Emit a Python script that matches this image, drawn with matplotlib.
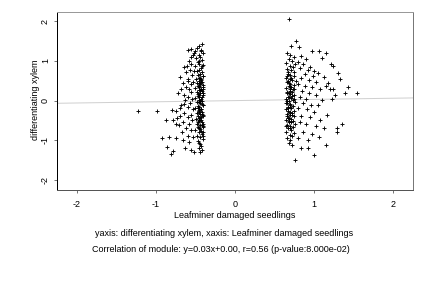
import matplotlib
matplotlib.use("Agg")
import matplotlib.pyplot as plt
import numpy as np

plt.rcParams['font.family'] = ['Liberation Sans', 'DejaVu Sans']

# Left cluster, dense column
left_dense = [(-0.42,1.42),(-0.45,1.38),(-0.48,1.33),(-0.43,1.28),(-0.50,1.25),(-0.41,1.20),(-0.46,1.15),(-0.44,1.10),
(-0.49,1.06),(-0.42,1.02),(-0.47,0.97),(-0.45,0.93),(-0.41,0.89),(-0.50,0.86),(-0.43,0.82),(-0.46,0.78),(-0.48,0.75),
(-0.42,0.71),(-0.44,0.68),(-0.47,0.64),(-0.41,0.61),(-0.45,0.58),(-0.49,0.55),(-0.43,0.52),(-0.46,0.50),(-0.42,0.47),
(-0.48,0.45),(-0.44,0.42),(-0.41,0.40),(-0.47,0.37),(-0.45,0.34),(-0.50,0.32),(-0.43,0.29),(-0.46,0.26),(-0.42,0.24),
(-0.48,0.21),(-0.44,0.18),(-0.41,0.15),(-0.47,0.12),(-0.45,0.10),(-0.51,0.07),(-0.43,0.04),(-0.46,0.02),(-0.42,-0.01),
(-0.48,-0.04),(-0.44,-0.07),(-0.41,-0.10),(-0.47,-0.13),(-0.45,-0.16),(-0.50,-0.19),(-0.43,-0.22),(-0.46,-0.25),
(-0.42,-0.28),(-0.48,-0.31),(-0.44,-0.34),(-0.41,-0.37),(-0.47,-0.40),(-0.45,-0.43),(-0.49,-0.46),(-0.43,-0.49),
(-0.46,-0.52),(-0.42,-0.55),(-0.48,-0.58),(-0.44,-0.61),(-0.41,-0.64),(-0.47,-0.67),(-0.45,-0.70),(-0.50,-0.73),
(-0.43,-0.76),(-0.46,-0.80),(-0.42,-0.84),(-0.48,-0.88),(-0.44,-0.92),(-0.41,-0.97),(-0.47,-1.02),(-0.45,-1.07),
(-0.43,-1.13),(-0.46,-1.19),(-0.42,-1.25),(-0.44,-1.30),
(-0.40,0.62),(-0.43,0.55),(-0.46,0.44),(-0.41,0.35),(-0.44,0.27),(-0.47,0.16),(-0.42,0.08),(-0.45,-0.03),(-0.40,-0.12),
(-0.43,-0.20),(-0.46,-0.29),(-0.41,-0.38),(-0.44,-0.45),(-0.47,-0.54),(-0.42,-0.62),(-0.45,-0.68),(-0.40,-0.78),
(-0.43,0.48),(-0.46,0.38),(-0.41,0.20),(-0.44,0.00),(-0.47,-0.18),(-0.42,-0.33),(-0.45,-0.50),(-0.40,-0.66),
(-0.44,0.58),(-0.41,0.30),(-0.45,0.13),(-0.42,-0.08),(-0.46,-0.24),(-0.43,-0.42),(-0.41,-0.58),(-0.44,-0.72),
(-0.42,0.88),(-0.45,1.00),(-0.43,1.24),(-0.41,-0.90),(-0.44,-1.10)]

# Left cluster, scattered points
left_spread = [(-0.55,1.30),(-0.60,1.28),(-0.52,1.20),(-0.56,1.10),(-0.53,1.15),(-0.58,1.00),(-0.61,0.88),(-0.64,0.85),
(-0.55,0.92),(-0.52,0.75),(-0.57,0.78),(-0.62,0.72),(-0.70,0.60),(-0.54,0.65),(-0.59,0.55),(-0.66,0.45),(-0.56,0.42),
(-0.53,0.48),(-0.62,0.35),(-0.68,0.30),(-0.58,0.28),(-0.55,0.22),(-0.65,0.15),(-0.72,0.18),(-0.60,0.10),(-0.54,0.05),
(-0.63,0.02),(-0.57,-0.05),(-0.68,-0.10),(-0.59,-0.15),(-0.70,-0.18),(-0.53,-0.20),(-0.75,-0.25),(-0.64,-0.30),
(-0.56,-0.35),(-0.70,-0.38),(-0.60,-0.42),(-0.73,-0.45),(-0.54,-0.50),(-0.66,-0.55),(-0.58,-0.60),(-0.71,-0.62),
(-0.62,-0.70),(-0.55,-0.75),(-0.67,-0.80),(-0.60,-0.88),(-0.53,-0.92),(-0.75,-0.95),(-0.66,-1.00),(-0.58,-1.05),
(-0.63,-1.20),(-0.56,-1.25),(-0.52,-1.30),(-0.60,0.50),(-0.65,-0.08),(-0.78,-0.50),
(-1.23,-0.25),(-0.98,-0.27),(-0.80,-0.23),(-0.87,-0.48),(-0.75,-0.58),(-0.92,-0.94),(-0.86,-1.16),(-0.81,-1.34),
(-0.83,-0.92),(-0.78,-1.28)]

# Right cluster, dense column
right_dense = [(0.66,1.20),(0.70,1.15),(0.74,1.10),(0.68,1.05),(0.72,1.00),(0.65,0.95),(0.76,0.92),(0.69,0.88),
(0.73,0.84),(0.66,0.80),(0.71,0.76),(0.75,0.72),(0.67,0.68),(0.70,0.65),(0.74,0.62),(0.65,0.58),(0.69,0.55),
(0.72,0.52),(0.77,0.49),(0.66,0.46),(0.70,0.43),(0.74,0.40),(0.68,0.37),(0.71,0.34),(0.65,0.31),(0.75,0.28),
(0.69,0.25),(0.72,0.22),(0.66,0.19),(0.70,0.16),(0.74,0.13),(0.67,0.10),(0.71,0.07),(0.65,0.04),(0.73,0.02),
(0.68,-0.01),(0.76,-0.04),(0.66,-0.07),(0.70,-0.10),(0.73,-0.13),(0.67,-0.16),(0.71,-0.19),(0.65,-0.22),(0.75,-0.25),
(0.69,-0.28),(0.72,-0.31),(0.66,-0.34),(0.70,-0.37),(0.74,-0.40),(0.67,-0.43),(0.71,-0.46),(0.65,-0.49),(0.73,-0.52),
(0.68,-0.55),(0.76,-0.58),(0.66,-0.61),(0.70,-0.64),(0.73,-0.67),(0.67,-0.70),(0.71,-0.74),(0.65,-0.78),(0.75,-0.82),
(0.69,-0.86),(0.72,-0.90),(0.66,-0.95),(0.70,-1.00),(0.68,-1.06),
(0.67,0.50),(0.69,0.35),(0.66,0.22),(0.68,0.08),(0.65,-0.05),(0.67,-0.18),(0.69,-0.30),(0.66,-0.40),(0.68,-0.52),
(0.65,-0.63),(0.70,0.30),(0.72,0.12),(0.68,0.20),(0.66,0.00),(0.70,-0.15),(0.72,-0.35),(0.68,-0.45),(0.71,0.58),
(0.67,0.72),(0.73,0.28),(0.69,-0.08),(0.71,-0.55),(0.66,0.62),(0.68,0.44),(0.74,0.05),(0.67,-0.26),(0.70,-0.68)]

# Right cluster, scattered points
right_spread = [(0.77,1.49),(0.71,1.37),(0.81,1.34),(0.97,1.24),(1.06,1.24),(1.15,1.21),(1.10,1.06),(1.21,0.91),
(1.24,0.88),(0.84,1.12),(0.90,1.05),(0.80,0.98),(0.86,0.92),(0.95,0.85),(0.82,0.82),(0.92,0.78),(1.00,0.75),
(1.05,0.70),(0.88,0.68),(0.98,0.62),(1.12,0.60),(0.84,0.56),(0.93,0.52),(1.02,0.48),(1.18,0.45),(0.80,0.42),
(0.89,0.38),(0.97,0.33),(1.08,0.30),(1.15,0.38),(0.85,0.25),(0.94,0.20),(1.03,0.15),(1.20,0.28),(1.24,0.30),
(0.82,0.10),(0.90,0.05),(1.10,0.02),(1.23,0.03),(1.27,0.15),(0.86,-0.05),(0.96,-0.10),(1.05,-0.12),(0.80,-0.18),
(0.91,-0.22),(1.00,-0.28),(1.16,-0.35),(0.84,-0.38),(0.95,-0.42),(1.08,-0.48),(0.82,-0.55),(0.90,-0.60),(1.02,-0.65),
(1.12,-0.70),(1.35,-0.58),(1.29,-0.68),(1.29,-0.78),(0.86,-0.78),(0.97,-0.85),(1.06,-0.92),(0.80,-0.95),(0.92,-1.00),
(0.72,-1.11),(0.92,-1.19),(1.15,-1.11),(1.00,-1.37),(0.76,-1.49),(0.84,-1.20),(0.68,2.05),(1.43,0.33),(1.39,0.20),
(1.54,0.18),(1.30,0.70),(1.33,0.55)]

fit_slope = 0.03
fit_intercept = 0.00
xticks = [-2, -1, 0, 1, 2]
yticks = [-2, -1, 0, 1, 2]
xlabel = "Leafminer damaged seedlings"
ylabel = "differentiating xylem"
caption1 = "yaxis: differentiating xylem, xaxis: Leafminer damaged seedlings"
caption2 = "Correlation of module: y=0.03x+0.00, r=0.56 (p-value:8.000e-02)"

pts = np.array(left_dense + left_spread + right_dense + right_spread)

fs = 9.0
fig = plt.figure(figsize=(6, 4), dpi=72)
ax = fig.add_axes([57/432, 1-190/288, (413-57)/432, (190-12)/288])
ax.set_xlim(-2.25, 2.25)
ax.set_ylim(-2.25, 2.23)

xl = np.array([-2.25, 2.25])
ax.plot(xl, fit_slope*xl + fit_intercept, color='#d0d0d0', lw=1.0, zorder=1)
ax.plot(pts[:, 0], pts[:, 1], '+', color='black', ms=4.5, mew=0.9, zorder=2)

ax.set_xticks(xticks)
ax.set_yticks(yticks)
ax.set_xticklabels([str(t) for t in xticks])
ax.set_yticklabels([str(t) for t in yticks], rotation=90, va='center')
ax.tick_params(direction='out', length=3, width=0.8, color='#555555', labelsize=fs)
ax.tick_params(axis='x', pad=7)
ax.tick_params(axis='y', pad=4)
ax.spines['left'].set_color('black')
ax.spines['top'].set_color('#999999')
ax.spines['bottom'].set_color('#555555')
ax.spines['right'].set_color('#777777')
for s in ax.spines.values():
    s.set_linewidth(1.0)

fig.text(235/432, 1-216/288, xlabel, ha='center', va='center', fontsize=fs)
fig.text(35/432, 1-100/288, ylabel, ha='center', va='center', fontsize=fs, rotation=90)
fig.text(224/432, 1-233/288, caption1, ha='center', va='center', fontsize=fs)
fig.text(221/432, 1-250/288, caption2, ha='center', va='center', fontsize=fs)

fig.savefig("out.png", dpi=72)
